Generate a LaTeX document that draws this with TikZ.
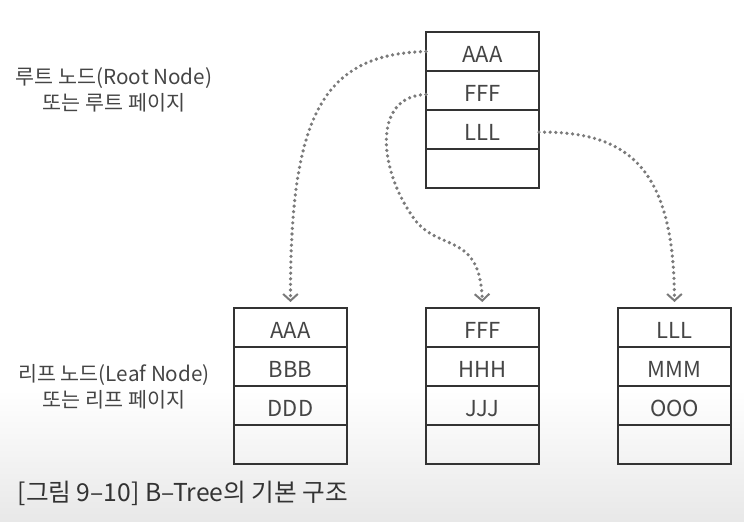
\documentclass[tikz,border=0pt]{standalone}
\usepackage{fontspec}
\setmainfont{Noto Sans CJK KR}
\usepackage{xcolor}
\usepackage{tikz}
\usetikzlibrary{positioning, arrows.meta}

\definecolor{linegray}{HTML}{333333}
\definecolor{txtgray}{HTML}{454545}
\definecolor{dotgray}{HTML}{7A7A7A}
\definecolor{bggray}{HTML}{E8E8E8}

\newcommand{\cellfont}{\fontsize{16.5}{19}\selectfont}
\newcommand{\lblfont}{\fontsize{15.5}{19.5}\selectfont}
\newcommand{\figcapfont}{\fontsize{18.5}{22}\selectfont}

\begin{document}
\begin{tikzpicture}[x=0.75pt, y=-0.75pt,
  every node/.style={text=txtgray},
  cell/.style={draw=linegray, line width=1.1pt, font=\cellfont,
    minimum width=84.75pt, minimum height=29.25pt, inner sep=0pt,
    outer sep=0pt, text height=16.5pt, text depth=0pt},
  frame/.style={draw=linegray, line width=1.6pt},
  lbl/.style={font=\lblfont, align=center},
  link/.style={draw=dotgray, line width=2.7pt, line cap=round,
    dash pattern=on 0pt off 4.2pt, shorten >=4.5pt,
    -{Straight Barb[length=5pt, width=11pt, line width=1.5pt]}}]
\useasboundingbox (0,0) rectangle (744,522);
\shade[top color=white, bottom color=bggray] (0,390) rectangle (744,522);

% root page
\node[cell] (r1) at (482.5,51.5) {AAA};
\node[cell, below=0pt of r1] (r2) {FFF};
\node[cell, below=0pt of r2] (r3) {LLL};
\node[cell, below=0pt of r3] (r4) {};
\draw[frame] (r1.north west) rectangle (r4.south east);

% leaf pages
\foreach \pg/\x/\ka/\kb/\kc in {la/290.5/AAA/BBB/DDD, lb/482.5/FFF/HHH/JJJ, lc/674.5/LLL/MMM/OOO} {
  \node[cell] (\pg1) at (\x,327.5) {\ka};
  \node[cell, below=0pt of \pg1] (\pg2) {\kb};
  \node[cell, below=0pt of \pg2] (\pg3) {\kc};
  \node[cell, below=0pt of \pg3] (\pg4) {};
  \draw[frame] (\pg1.north west) rectangle (\pg4.south east);
}

% labels
\node[lbl] (rootlbl) at (114,90) {루트 노드(Root Node)\\또는 루트 페이지};
\node[lbl] (leaflbl) at (114,386.5) {리프 노드(Leaf Node)\\또는 리프 페이지};
\node[font=\figcapfont, anchor=west, text=linegray] (figcap) at (13,493)
  {[그림 9–10] B–Tree의 기본 구조};

% pointers
\draw[link] (r1.west) .. controls (320,54) and (290,120) .. (la1.north);
\draw[link] ([yshift=-3pt]r2.west) .. controls (372,96) and (378,170) .. (415,220)
  .. controls (440,252) and (480,232) .. (lb1.north);
\draw[link] ([yshift=-2pt]r3.east) .. controls (630,131) and (674,170) .. (lc1.north);
\end{tikzpicture}
\end{document}
